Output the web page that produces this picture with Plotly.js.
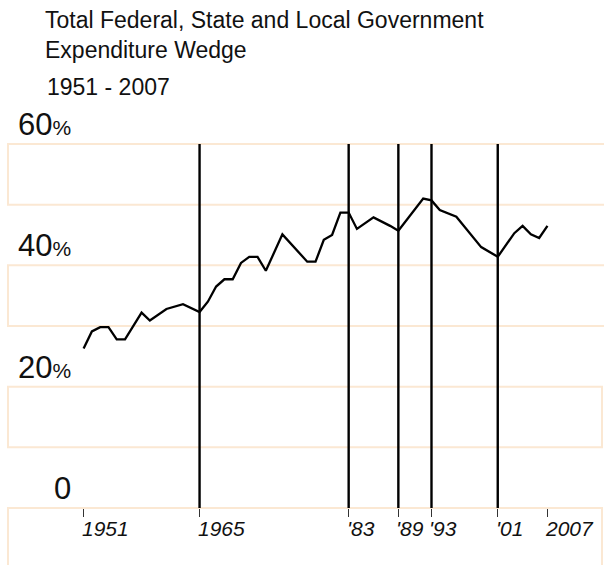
<!DOCTYPE html>
<html>
<head>
<meta charset="utf-8">
<script src="https://cdn.plot.ly/plotly-3.0.1.min.js"></script>
<style>html,body{margin:0;padding:0;background:#fff;}#chart{width:604px;height:565px;}</style>
</head>
<body>
<div id="chart"></div>
<script>
// ---- data ----
const years = [1951,1952,1953,1954,1955,1956,1958,1959,1961,1963,1965,1966,1967,1968,1969,1970,1971,1972,1973,1975,1978,1979,1980,1981,1982,1983,1984,1986,1988,1989,1992,1993,1994,1996,1999,2001,2003,2004,2005,2006,2007];
const wedge = [26.3,29.1,29.8,29.8,27.8,27.8,32.2,30.9,32.8,33.6,32.3,34.0,36.5,37.7,37.7,40.4,41.4,41.4,39.1,45.1,40.6,40.6,44.2,45.0,48.7,48.7,46.0,47.9,46.5,45.7,51.0,50.7,49.1,48.0,43.0,41.4,45.3,46.5,45.1,44.5,46.5];
const markerYears = [1965,1983,1989,1993,2001];
const tickYears = [1951,1965,1983,1989,1993,2001,2007];
const tickLabels = ["1951","1965","'83","'89","'93","'01","2007"];
const yTickVals = [0,20,40,60];
const yTickLabels = ["0","20%","40%","60%"];
const bandBottoms = [50,30,10,-10];
const bandTops = [60,40,20,0];
const titleText = "Total Federal, State and Local Government<br>Expenditure Wedge";
const subtitleText = "1951 - 2007";

const FONT = "Liberation Sans, Arial, Helvetica, sans-serif";
const bandColor = "#fbe8d3";

const shapes = [];
bandTops.forEach((t, i) => {
  shapes.push({type:'rect', xref:'paper', yref:'y', x0:8/604, x1:(i < 2 ? 1.05 : 602/604),
    y0:bandBottoms[i], y1:t, line:{color:bandColor, width:2}, fillcolor:'rgba(0,0,0,0)', layer:'below'});
});
markerYears.forEach(yr => {
  shapes.push({type:'line', xref:'x', yref:'y', x0:yr, x1:yr, y0:0, y1:60, line:{color:'#000', width:2.4}});
});

const annotations = [];
annotations.push({text: subtitleText, xref:'paper', yref:'paper', x:45/604, y:1-72/565, xanchor:'left', yanchor:'top',
  showarrow:false, font:{family:FONT, size:23, color:'#111'}});
tickYears.forEach((yr, i) => {
  annotations.push({text:'<i>'+tickLabels[i]+'</i>', xref:'x', yref:'y', x:yr, y:0, xanchor:'left', yanchor:'top',
    yshift:-7, xshift:-4, showarrow:false, font:{family:FONT, size:21, color:'#111'}});
});
yTickVals.forEach((v, i) => {
  const lab = yTickLabels[i];
  const txt = lab.endsWith('%') ? lab.slice(0,-1) + "<span style='font-size:21px'>%</span>" : lab;
  annotations.push({text:txt, xref:'paper', yref:'y', x:73/604, y:v, xanchor:'right', yanchor:'bottom',
    yshift:0, showarrow:false, font:{family:FONT, size:31, color:'#111'}});
});

const trace = {x: years, y: wedge, type:'scatter', mode:'lines', line:{color:'#000', width:2.3}, hoverinfo:'skip'};

const layout = {
  width:604, height:565,
  margin:{l:0, r:0, t:0, b:0},
  paper_bgcolor:'#fff', plot_bgcolor:'rgba(0,0,0,0)',
  showlegend:false,
  title:{text:titleText, x:45/604, xanchor:'left', xref:'paper', y:1-28/565, yanchor:'top', yref:'container',
    font:{family:FONT, size:23, color:'#111'}},
  xaxis:{range:[1940.907, 2013.827], showgrid:false, zeroline:false, showline:false,
    tickvals:tickYears, ticks:'outside', ticklen:8, tickwidth:1, tickcolor:'#333', showticklabels:false,
    anchor:'free', position:(565-508)/565, fixedrange:true},
  yaxis:{range:[-9.395, 83.73], showgrid:false, zeroline:false, showline:false, showticklabels:false, ticks:'', fixedrange:true},
  shapes: shapes,
  annotations: annotations
};
Plotly.newPlot('chart', [trace], layout, {displayModeBar:false, staticPlot:true});
</script>
</body>
</html>
